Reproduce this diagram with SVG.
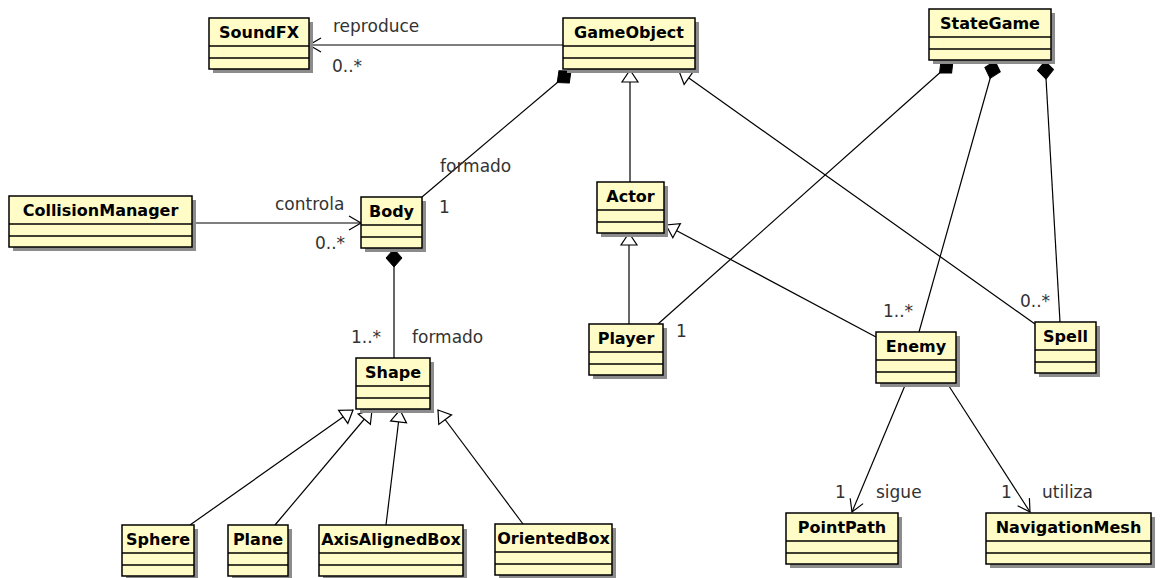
<svg xmlns="http://www.w3.org/2000/svg" width="1164" height="578" viewBox="0 0 1164 578">
<defs>
<style>
.sh{fill:#8c8c8c;}
.bx{fill:#fffcc8;stroke:#000;stroke-width:1.5;}
.dv{stroke:#000;stroke-width:1.5;}
.nm{font-family:"DejaVu Sans",sans-serif;font-weight:bold;font-size:16px;fill:#000;text-anchor:middle;}
.lb{font-family:"DejaVu Sans",sans-serif;font-size:17px;fill:#333;}
.ln{fill:none;stroke:#000;stroke-width:1.2;}
</style>
<marker id="dia" markerUnits="userSpaceOnUse" viewBox="-20 -10 22 20" markerWidth="22" markerHeight="20" refX="0" refY="0" orient="auto">
<path d="M0,0 L-9,-8 L-18,0 L-9,8 Z" fill="#000" stroke="#000" stroke-width="1"/>
</marker>
<marker id="tri" markerUnits="userSpaceOnUse" viewBox="-15 -10 17 20" markerWidth="17" markerHeight="20" refX="0" refY="0" orient="auto">
<path d="M0,0 L-12,-8 L-12,8 Z" fill="#fff" stroke="#000" stroke-width="1.2"/>
</marker>
<marker id="arr" markerUnits="userSpaceOnUse" viewBox="-14 -9 16 18" markerWidth="16" markerHeight="18" refX="0" refY="0" orient="auto">
<path d="M-12,-7 L0,0 L-12,7" fill="none" stroke="#000" stroke-width="1.2"/>
</marker>
</defs>
<rect width="1164" height="578" fill="#fff"/>

<g id="connectors">
<path class="ln" d="M563,45 L309,45" marker-end="url(#arr)"/>
<path class="ln" d="M422,197 L571,71" marker-end="url(#dia)"/>
<path class="ln" d="M192,223 L361,223" marker-end="url(#arr)"/>
<path class="ln" d="M394,358 L394,249" marker-end="url(#dia)"/>
<path class="ln" d="M190,525 L353,410" marker-end="url(#tri)"/>
<path class="ln" d="M275,525 L372,410" marker-end="url(#tri)"/>
<path class="ln" d="M386,525 L400,410" marker-end="url(#tri)"/>
<path class="ln" d="M523,524 L438,410" marker-end="url(#tri)"/>
<path class="ln" d="M630,182 L630,70" marker-end="url(#tri)"/>
<path class="ln" d="M629,324 L629,233" marker-end="url(#tri)"/>
<path class="ln" d="M1035,324 L679,71" marker-end="url(#tri)"/>
<path class="ln" d="M876,337 L666,225" marker-end="url(#tri)"/>
<path class="ln" d="M658,324 L953,61" marker-end="url(#dia)"/>
<path class="ln" d="M919,332 L995,61" marker-end="url(#dia)"/>
<path class="ln" d="M1060,322 L1045,61" marker-end="url(#dia)"/>
<path class="ln" d="M906,383 L852,512" marker-end="url(#arr)"/>
<path class="ln" d="M947,383 L1030,512" marker-end="url(#arr)"/>
<text class="lb" x="333" y="32">reproduce</text>
<text class="lb" x="332" y="72">0..*</text>
<text class="lb" x="440" y="172">formado</text>
<text class="lb" x="439" y="213">1</text>
<text class="lb" x="275" y="210">controla</text>
<text class="lb" x="315" y="249">0..*</text>
<text class="lb" x="351" y="343">1..*</text>
<text class="lb" x="412" y="343">formado</text>
<text class="lb" x="676" y="337">1</text>
<text class="lb" x="883" y="317">1..*</text>
<text class="lb" x="1020" y="307">0..*</text>
<text class="lb" x="835" y="498">1</text>
<text class="lb" x="876" y="498">sigue</text>
<text class="lb" x="1001" y="498">1</text>
<text class="lb" x="1042" y="498">utiliza</text>
</g>

<g id="SoundFX"><rect class="sh" x="213" y="22" width="100" height="51"/><rect class="bx" x="209" y="18" width="100" height="51"/><line class="dv" x1="209" y1="46" x2="309" y2="46"/><line class="dv" x1="209" y1="58" x2="309" y2="58"/><text class="nm" x="259" y="38">SoundFX</text></g>
<g id="GameObject"><rect class="sh" x="567" y="22" width="132" height="51"/><rect class="bx" x="563" y="18" width="132" height="51"/><line class="dv" x1="563" y1="46" x2="695" y2="46"/><line class="dv" x1="563" y1="58" x2="695" y2="58"/><text class="nm" x="629" y="38">GameObject</text></g>
<g id="StateGame"><rect class="sh" x="933" y="13" width="122" height="51"/><rect class="bx" x="929" y="9" width="122" height="51"/><line class="dv" x1="929" y1="37" x2="1051" y2="37"/><line class="dv" x1="929" y1="49" x2="1051" y2="49"/><text class="nm" x="990" y="29">StateGame</text></g>
<g id="CollisionManager"><rect class="sh" x="13" y="200" width="183" height="51"/><rect class="bx" x="9" y="196" width="183" height="51"/><line class="dv" x1="9" y1="224" x2="192" y2="224"/><line class="dv" x1="9" y1="236" x2="192" y2="236"/><text class="nm" x="100.5" y="216">CollisionManager</text></g>
<g id="Body"><rect class="sh" x="365" y="201" width="61" height="51"/><rect class="bx" x="361" y="197" width="61" height="51"/><line class="dv" x1="361" y1="225" x2="422" y2="225"/><line class="dv" x1="361" y1="237" x2="422" y2="237"/><text class="nm" x="391.5" y="217">Body</text></g>
<g id="Actor"><rect class="sh" x="601" y="186" width="67" height="51"/><rect class="bx" x="597" y="182" width="67" height="51"/><line class="dv" x1="597" y1="210" x2="664" y2="210"/><line class="dv" x1="597" y1="222" x2="664" y2="222"/><text class="nm" x="630.5" y="202">Actor</text></g>
<g id="Player"><rect class="sh" x="593" y="328" width="74" height="51"/><rect class="bx" x="589" y="324" width="74" height="51"/><line class="dv" x1="589" y1="352" x2="663" y2="352"/><line class="dv" x1="589" y1="364" x2="663" y2="364"/><text class="nm" x="626" y="344">Player</text></g>
<g id="Enemy"><rect class="sh" x="880" y="336" width="80" height="51"/><rect class="bx" x="876" y="332" width="80" height="51"/><line class="dv" x1="876" y1="360" x2="956" y2="360"/><line class="dv" x1="876" y1="372" x2="956" y2="372"/><text class="nm" x="916" y="352">Enemy</text></g>
<g id="Spell"><rect class="sh" x="1039" y="326" width="61" height="51"/><rect class="bx" x="1035" y="322" width="61" height="51"/><line class="dv" x1="1035" y1="350" x2="1096" y2="350"/><line class="dv" x1="1035" y1="362" x2="1096" y2="362"/><text class="nm" x="1065.5" y="342">Spell</text></g>
<g id="Shape"><rect class="sh" x="360" y="362" width="74" height="51"/><rect class="bx" x="356" y="358" width="74" height="51"/><line class="dv" x1="356" y1="386" x2="430" y2="386"/><line class="dv" x1="356" y1="398" x2="430" y2="398"/><text class="nm" x="393" y="378">Shape</text></g>
<g id="Sphere"><rect class="sh" x="126" y="529" width="72" height="51"/><rect class="bx" x="122" y="525" width="72" height="51"/><line class="dv" x1="122" y1="553" x2="194" y2="553"/><line class="dv" x1="122" y1="565" x2="194" y2="565"/><text class="nm" x="158" y="545">Sphere</text></g>
<g id="Plane"><rect class="sh" x="232" y="529" width="60" height="51"/><rect class="bx" x="228" y="525" width="60" height="51"/><line class="dv" x1="228" y1="553" x2="288" y2="553"/><line class="dv" x1="228" y1="565" x2="288" y2="565"/><text class="nm" x="258" y="545">Plane</text></g>
<g id="AxisAlignedBox"><rect class="sh" x="323" y="529" width="144" height="51"/><rect class="bx" x="319" y="525" width="144" height="51"/><line class="dv" x1="319" y1="553" x2="463" y2="553"/><line class="dv" x1="319" y1="565" x2="463" y2="565"/><text class="nm" x="391" y="545">AxisAlignedBox</text></g>
<g id="OrientedBox"><rect class="sh" x="499" y="528" width="117" height="51"/><rect class="bx" x="495" y="524" width="117" height="51"/><line class="dv" x1="495" y1="552" x2="612" y2="552"/><line class="dv" x1="495" y1="564" x2="612" y2="564"/><text class="nm" x="553.5" y="544">OrientedBox</text></g>
<g id="PointPath"><rect class="sh" x="790" y="517" width="112" height="51"/><rect class="bx" x="786" y="513" width="112" height="51"/><line class="dv" x1="786" y1="541" x2="898" y2="541"/><line class="dv" x1="786" y1="553" x2="898" y2="553"/><text class="nm" x="842" y="533">PointPath</text></g>
<g id="NavigationMesh"><rect class="sh" x="990" y="517" width="165" height="51"/><rect class="bx" x="986" y="513" width="165" height="51"/><line class="dv" x1="986" y1="541" x2="1151" y2="541"/><line class="dv" x1="986" y1="553" x2="1151" y2="553"/><text class="nm" x="1068.5" y="533">NavigationMesh</text></g>
</svg>
